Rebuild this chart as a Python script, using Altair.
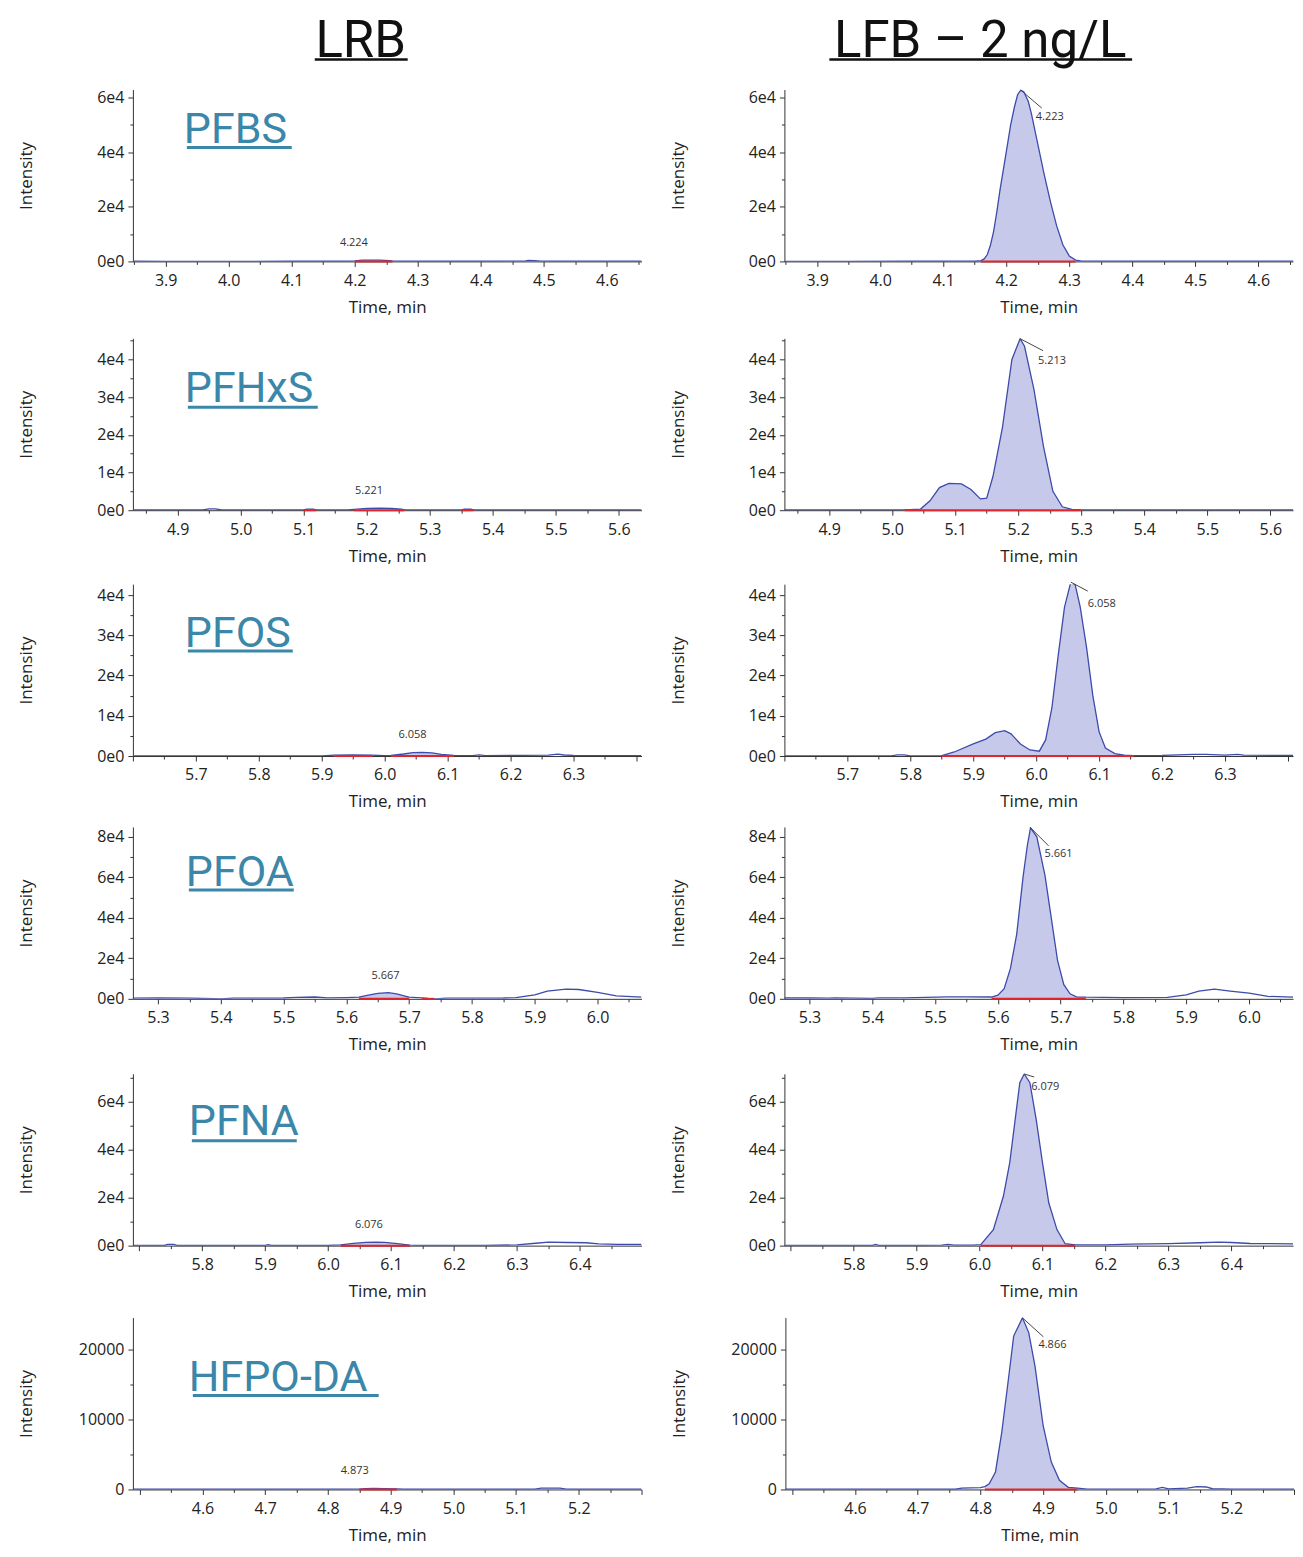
import math
import altair as alt
import pandas as pd

# ------------------------------------------------------------------ data
COMPOUNDS = ["PFBS", "PFHxS", "PFOS", "PFOA", "PFNA", "HFPO-DA"]
COLUMN_TITLES = ["LRB", "LFB – 2 ng/L"]

X_DOMAINS = [[3.848, 4.655], [4.829, 5.636], [5.600, 6.408],
             [5.260, 6.070], [5.690, 6.498], [4.489, 5.300]]
X_LABEL_RANGE = [[3.9, 4.6], [4.9, 5.6], [5.7, 6.3], [5.3, 6.0], [5.8, 6.4], [4.6, 5.2]]
Y_MAX = [62900, 45600, 42700, 84900, 71700, 24540]
Y_LABEL_STEP = [20000, 10000, 10000, 20000, 20000, 10000]
Y_MINOR_STEP = [10000, 5000, 5000, 10000, 10000, 5000]
Y_LABEL_STYLE = ["e4", "e4", "e4", "e4", "e4", "plain"]

# PFBS
PFBS_LRB_T = [3.848, 3.90, 4.00, 4.10, 4.19, 4.20, 4.212, 4.224, 4.24, 4.255, 4.26, 4.30, 4.40, 4.47, 4.475, 4.485, 4.495, 4.55, 4.655]
PFBS_LRB_I = [50, 40, 40, 50, 60, 200, 450, 500, 450, 250, 100, 50, 60, 80, 350, 300, 80, 50, 50]
PFBS_LRB_WIN = [[4.20, 4.26]]
PFBS_LFB_T = [3.848, 3.95, 4.05, 4.15, 4.16, 4.165, 4.17, 4.175, 4.18, 4.185, 4.19, 4.20, 4.207, 4.213, 4.218, 4.223, 4.228, 4.235, 4.24, 4.25, 4.26, 4.27, 4.28, 4.29, 4.30, 4.31, 4.32, 4.40, 4.50, 4.655]
PFBS_LFB_I = [40, 40, 50, 60, 300, 900, 2500, 6000, 11000, 18000, 26000, 40000, 50000, 56500, 61000, 62700, 62000, 58500, 54000, 43000, 32000, 22000, 13000, 6000, 2000, 500, 100, 50, 50, 50]
PFBS_LFB_WIN = [[4.16, 4.31]]

# PFHxS
PFHXS_LRB_T = [4.829, 4.90, 4.94, 4.95, 4.96, 4.97, 5.05, 5.10, 5.105, 5.115, 5.12, 5.17, 5.18, 5.20, 5.221, 5.24, 5.255, 5.26, 5.30, 5.35, 5.355, 5.365, 5.37, 5.45, 5.55, 5.636]
PFHXS_LRB_I = [50, 50, 60, 350, 350, 60, 50, 60, 300, 300, 60, 60, 200, 500, 550, 450, 250, 80, 50, 60, 250, 250, 60, 50, 50, 50]
PFHXS_LRB_WIN = [[5.10, 5.12], [5.18, 5.26], [5.35, 5.37]]
PFHXS_LFB_T = [4.829, 4.95, 5.00, 5.02, 5.045, 5.06, 5.075, 5.09, 5.11, 5.125, 5.14, 5.15, 5.16, 5.175, 5.19, 5.203, 5.21, 5.225, 5.24, 5.255, 5.27, 5.285, 5.30, 5.40, 5.50, 5.636]
PFHXS_LFB_I = [50, 50, 60, 80, 300, 2500, 6000, 7100, 7000, 5500, 3000, 3200, 9000, 22000, 40000, 45500, 43500, 32000, 17000, 5000, 900, 200, 60, 50, 50, 50]
PFHXS_LFB_WIN = [[5.02, 5.30]]

# PFOS
PFOS_LRB_T = [5.600, 5.70, 5.80, 5.90, 5.92, 5.95, 5.98, 6.00, 6.01, 6.03, 6.045, 6.06, 6.075, 6.09, 6.11, 6.14, 6.15, 6.16, 6.20, 6.26, 6.275, 6.285, 6.30, 6.408]
PFOS_LRB_I = [50, 50, 60, 60, 200, 250, 200, 80, 150, 500, 850, 900, 800, 400, 150, 100, 300, 120, 150, 200, 450, 250, 150, 100]
PFOS_LRB_WIN = [[5.92, 5.98], [6.01, 6.11]]
PFOS_LFB_T = [5.600, 5.70, 5.77, 5.78, 5.79, 5.80, 5.85, 5.87, 5.90, 5.92, 5.935, 5.95, 5.96, 5.975, 5.99, 6.005, 6.015, 6.025, 6.035, 6.045, 6.055, 6.062, 6.07, 6.08, 6.09, 6.10, 6.11, 6.125, 6.14, 6.155, 6.20, 6.25, 6.27, 6.30, 6.32, 6.33, 6.408]
PFOS_LFB_I = [50, 50, 60, 300, 300, 60, 100, 1000, 3000, 4200, 5800, 6300, 5500, 3000, 1500, 1200, 4000, 12000, 25000, 37000, 43200, 42500, 37000, 27000, 15000, 6000, 2000, 600, 200, 100, 150, 400, 400, 200, 400, 200, 150]
PFOS_LFB_WIN = [[5.85, 6.155]]

# PFOA
PFOA_LRB_T = [5.26, 5.30, 5.35, 5.39, 5.40, 5.42, 5.50, 5.52, 5.55, 5.57, 5.60, 5.62, 5.635, 5.65, 5.667, 5.68, 5.695, 5.70, 5.72, 5.73, 5.74, 5.76, 5.85, 5.87, 5.90, 5.92, 5.95, 5.97, 6.00, 6.03, 6.07]
PFOA_LRB_I = [300, 400, 300, 100, 0, 300, 400, 700, 900, 500, 600, 800, 1800, 2700, 3100, 2500, 1200, 800, 500, 200, 0, 300, 400, 600, 2000, 3800, 4800, 4600, 3200, 1500, 800]
PFOA_LRB_WIN = [[5.62, 5.70], [5.72, 5.74]]
PFOA_LFB_T = [5.26, 5.30, 5.33, 5.34, 5.40, 5.41, 5.45, 5.52, 5.55, 5.59, 5.60, 5.61, 5.62, 5.63, 5.64, 5.647, 5.652, 5.662, 5.675, 5.685, 5.695, 5.705, 5.715, 5.725, 5.74, 5.80, 5.87, 5.90, 5.92, 5.945, 5.97, 6.00, 6.03, 6.07]
PFOA_LFB_I = [400, 500, 300, 500, 200, 500, 500, 1000, 1000, 900, 1800, 5000, 15000, 32000, 60000, 76000, 84500, 80000, 61000, 40000, 19000, 7000, 2500, 1000, 800, 600, 700, 2000, 3800, 4800, 3800, 2800, 1200, 800]
PFOA_LFB_WIN = [[5.59, 5.74]]

# PFNA
PFNA_LRB_T = [5.69, 5.74, 5.745, 5.755, 5.76, 5.85, 5.90, 5.905, 5.91, 6.00, 6.02, 6.04, 6.06, 6.076, 6.09, 6.11, 6.13, 6.15, 6.25, 6.30, 6.33, 6.35, 6.38, 6.41, 6.43, 6.46, 6.498]
PFNA_LRB_I = [100, 100, 500, 500, 100, 100, 100, 400, 100, 100, 300, 900, 1400, 1500, 1400, 800, 200, 100, 100, 300, 1000, 1500, 1300, 1200, 700, 500, 500]
PFNA_LRB_WIN = [[6.02, 6.13]]
PFNA_LFB_T = [5.69, 5.80, 5.83, 5.835, 5.84, 5.90, 5.94, 5.95, 5.96, 5.99, 6.002, 6.022, 6.038, 6.048, 6.058, 6.064, 6.071, 6.080, 6.090, 6.100, 6.110, 6.123, 6.136, 6.152, 6.20, 6.24, 6.30, 6.35, 6.38, 6.40, 6.43, 6.498]
PFNA_LFB_I = [100, 100, 100, 500, 100, 100, 200, 500, 200, 200, 400, 6700, 20700, 34600, 55500, 68000, 71600, 68000, 52700, 34600, 17900, 6700, 800, 300, 300, 600, 800, 1200, 1500, 1300, 900, 700]
PFNA_LFB_WIN = [[6.002, 6.152]]

# HFPO-DA
HFPO_LRB_T = [4.489, 4.60, 4.70, 4.80, 4.85, 4.86, 4.873, 4.89, 4.91, 4.92, 5.00, 5.10, 5.13, 5.14, 5.17, 5.18, 5.20, 5.30]
HFPO_LRB_I = [30, 30, 30, 30, 60, 120, 150, 130, 80, 30, 30, 30, 60, 200, 200, 60, 30, 30]
HFPO_LRB_WIN = [[4.85, 4.91]]
HFPO_LFB_T = [4.489, 4.60, 4.70, 4.76, 4.77, 4.80, 4.807, 4.814, 4.824, 4.834, 4.844, 4.853, 4.867, 4.877, 4.887, 4.900, 4.913, 4.926, 4.940, 4.955, 4.97, 5.05, 5.08, 5.09, 5.10, 5.13, 5.145, 5.16, 5.17, 5.20, 5.30]
HFPO_LFB_I = [30, 30, 30, 30, 200, 250, 400, 800, 2500, 8150, 15300, 21900, 24500, 22400, 17600, 9100, 3900, 1300, 300, 200, 50, 50, 80, 300, 80, 200, 400, 350, 100, 50, 30]
HFPO_LFB_WIN = [[4.807, 4.955]]

# peak labels
LRB_RT = ["4.224", "5.221", "6.058", "5.667", "6.076", "4.873"]
LRB_APEX_T = [4.224, 5.221, 6.06, 5.667, 6.076, 4.873]
LRB_APEX_I = [500, 550, 900, 3100, 1500, 150]
LFB_RT = ["4.223", "5.213", "6.058", "5.661", "6.079", "4.866"]
LFB_APEX_T = [4.223, 5.203, 6.055, 5.652, 6.071, 4.867]
LFB_APEX_I = [62700, 45500, 43200, 84500, 71600, 24500]

TRACES = [
    [(PFBS_LRB_T, PFBS_LRB_I, PFBS_LRB_WIN), (PFBS_LFB_T, PFBS_LFB_I, PFBS_LFB_WIN)],
    [(PFHXS_LRB_T, PFHXS_LRB_I, PFHXS_LRB_WIN), (PFHXS_LFB_T, PFHXS_LFB_I, PFHXS_LFB_WIN)],
    [(PFOS_LRB_T, PFOS_LRB_I, PFOS_LRB_WIN), (PFOS_LFB_T, PFOS_LFB_I, PFOS_LFB_WIN)],
    [(PFOA_LRB_T, PFOA_LRB_I, PFOA_LRB_WIN), (PFOA_LFB_T, PFOA_LFB_I, PFOA_LFB_WIN)],
    [(PFNA_LRB_T, PFNA_LRB_I, PFNA_LRB_WIN), (PFNA_LFB_T, PFNA_LFB_I, PFNA_LFB_WIN)],
    [(HFPO_LRB_T, HFPO_LRB_I, HFPO_LRB_WIN), (HFPO_LFB_T, HFPO_LFB_I, HFPO_LFB_WIN)],
]

# ------------------------------------------------------------------ layout / style
PLOT_W = 509
PLOT_H = 172
TITLE_X = -97
HSPACE = 28
VSPACE = 17
# text_x, baseline_y, underline_x, underline_y, underline_w (px, relative to plot)
LABEL_POS = [(51, 54, 54, 58, 105), (52, 64, 55, 69, 130), (52, 63, 55, 67, 105),
             (53, 59, 56, 63, 105), (56, 61, 59, 67, 105), (56, 73, 60, 78, 186)]
# leader dx, dy, text dx, dy
LEADER = [(21, 18, 15, 27), (23, 12, 18, 22), (17, 9, 17, 22),
          (18, 18, 14, 26), (10, 3, 7, 13), (21, 19, 16, 27)]
LRB_TEXT_DX = [-16, -11, -10, -3, -7, -19]
# column titles: center_x, baseline_y, underline x0, x1, underline_y (px in title strip,
# whose origin is aligned with the left plot origin)
COL_TITLE_POS = [(228, 48, 182, 275, 51), (848, 48, 697, 1000, 51)]
TITLE_STRIP_H = 60
TITLE_FONT_SIZE = 51

LINE_COLOR = "#3d4bab"
FILL_COLOR = "#c6c9e9"
BASE_COLOR = "#e0262b"
TEAL = "#3b87a9"
AXIS_FONT = "Open Sans"
LABEL_FONT = "Roboto"


def ticks(lo, hi, step):
    k0 = math.ceil(lo / step - 1e-9)
    k1 = math.floor(hi / step + 1e-9)
    return [round(k * step, 4) for k in range(k0, k1 + 1)]


def panel(r, side):
    T, I, WIN = TRACES[r][side]
    lrb = side == 0
    xdom = X_DOMAINS[r]
    ymax = Y_MAX[r]
    xs = alt.Scale(domain=xdom, nice=False, zero=False)
    ys = alt.Scale(domain=[0, ymax], nice=False, zero=False)

    lo, hi = X_LABEL_RANGE[r]
    x_major = "abs(datum.value * 10 - round(datum.value * 10)) < 0.001"
    x_lab = f"({x_major}) && datum.value > {lo - 0.001} && datum.value < {hi + 0.001}"
    x_axis = alt.Axis(
        values=ticks(xdom[0], xdom[1], 0.05), title="Time, min",
        labelExpr=f"({x_lab}) ? format(datum.value, '.1f') : ''",
        tickSize={"condition": {"test": x_major, "value": 5}, "value": 3},
        labelOverlap=False, labelFlush=False, labelPadding=6, titlePadding=11)
    y_major = f"datum.value % {Y_LABEL_STEP[r]} == 0"
    if Y_LABEL_STYLE[r] == "e4":
        ylab = f"({y_major}) ? (datum.value == 0 ? '0e0' : (datum.value / 10000) + 'e4') : ''"
    else:
        ylab = f"({y_major}) ? format(datum.value, 'd') : ''"
    y_axis = alt.Axis(
        values=ticks(0, ymax, Y_MINOR_STEP[r]), title="Intensity", labelExpr=ylab,
        tickSize={"condition": {"test": y_major, "value": 5}, "value": 3},
        labelOverlap=False, labelPadding=4, titleX=TITLE_X, titleAngle=270,
        titleBaseline="bottom")

    X = alt.X("t:Q", scale=xs, axis=x_axis)
    Y = alt.Y("i:Q", scale=ys, axis=y_axis)
    Y_area = alt.Y("i:Q", scale=ys, axis=y_axis, stack=None)

    trace = pd.DataFrame({"t": T, "i": I})
    parts = []
    for k, (s, e) in enumerate(WIN):
        sub = trace[(trace.t >= s - 1e-9) & (trace.t <= e + 1e-9)].copy()
        sub["g"] = k
        parts.append(sub)
    area_df = pd.concat(parts)
    win_df = pd.DataFrame({"t": [w[0] for w in WIN], "t2": [w[1] for w in WIN],
                           "i": [0] * len(WIN)})

    layers = [
        alt.Chart(area_df).mark_area(color=FILL_COLOR, clip=True).encode(
            x=X, y=Y_area, detail="g:N"),
        alt.Chart(trace).mark_line(color=LINE_COLOR, strokeWidth=1.3, clip=True).encode(x=X, y=Y),
        alt.Chart(win_df).mark_rule(color=BASE_COLOR, strokeWidth=2).encode(x=X, x2="t2:Q", y=Y),
    ]

    if lrb:
        peak = pd.DataFrame({"t": [LRB_APEX_T[r]], "i": [LRB_APEX_I[r]], "rt": [LRB_RT[r]]})
        layers.append(alt.Chart(peak).mark_text(
            font=AXIS_FONT, fontSize=11, color="#333", baseline="bottom",
            dy=-12, dx=LRB_TEXT_DX[r]).encode(x=X, y=Y, text="rt:N"))
        tx, by, ux, uy, uw = LABEL_POS[r]
        layers.append(alt.Chart(peak).mark_text(
            text=COMPOUNDS[r], font=LABEL_FONT, fontSize=43, color=TEAL,
            align="left", baseline="alphabetic").encode(x=alt.value(tx), y=alt.value(by)))
        layers.append(alt.Chart(peak).mark_rule(color=TEAL, strokeWidth=3).encode(
            x=alt.value(ux), x2=alt.value(ux + uw), y=alt.value(uy)))
    else:
        peak = pd.DataFrame({"t": [LFB_APEX_T[r]], "i": [LFB_APEX_I[r]], "rt": [LFB_RT[r]]})
        ldx, ldy, tdx, tdy = LEADER[r]
        layers.append(alt.Chart(peak).mark_rule(
            color="#444", strokeWidth=1, x2Offset=ldx, y2Offset=ldy).encode(
            x=X, y=Y, x2="t:Q", y2="i:Q"))
        layers.append(alt.Chart(peak).mark_text(
            font=AXIS_FONT, fontSize=11, color="#333", align="left", baseline="middle",
            dx=tdx, dy=tdy).encode(x=X, y=Y, text="rt:N"))

    return alt.layer(*layers).properties(width=PLOT_W, height=PLOT_H)


# title strip
strip_df = pd.DataFrame({"k": [0]})
strip_layers = []
for s in range(2):
    cx, by, u0, u1, uy = COL_TITLE_POS[s]
    strip_layers.append(alt.Chart(strip_df).mark_text(
        text=COLUMN_TITLES[s], font=LABEL_FONT, fontSize=TITLE_FONT_SIZE, color="#111",
        align="center", baseline="alphabetic").encode(x=alt.value(cx), y=alt.value(by)))
    strip_layers.append(alt.Chart(strip_df).mark_rule(color="#111", strokeWidth=2.5).encode(
        x=alt.value(u0), x2=alt.value(u1), y=alt.value(uy)))
title_strip = alt.layer(*strip_layers).properties(width=1100, height=TITLE_STRIP_H)

rows = [alt.hconcat(panel(r, 0), panel(r, 1), spacing=HSPACE) for r in range(6)]
body = alt.vconcat(*rows, spacing=VSPACE)

chart = alt.vconcat(title_strip, body, spacing=20).properties(
    padding={"left": 10, "top": 0, "right": 0, "bottom": 2}
).configure_view(stroke=None).configure_axis(
    labelFont=AXIS_FONT, labelFontSize=16, labelColor="#222",
    titleFont=AXIS_FONT, titleFontSize=17, titleFontWeight="normal", titleColor="#222",
    domainColor="#333", tickColor="#333", grid=False
)

chart.save("out.html", embed_options={"renderer": "svg", "actions": False})
